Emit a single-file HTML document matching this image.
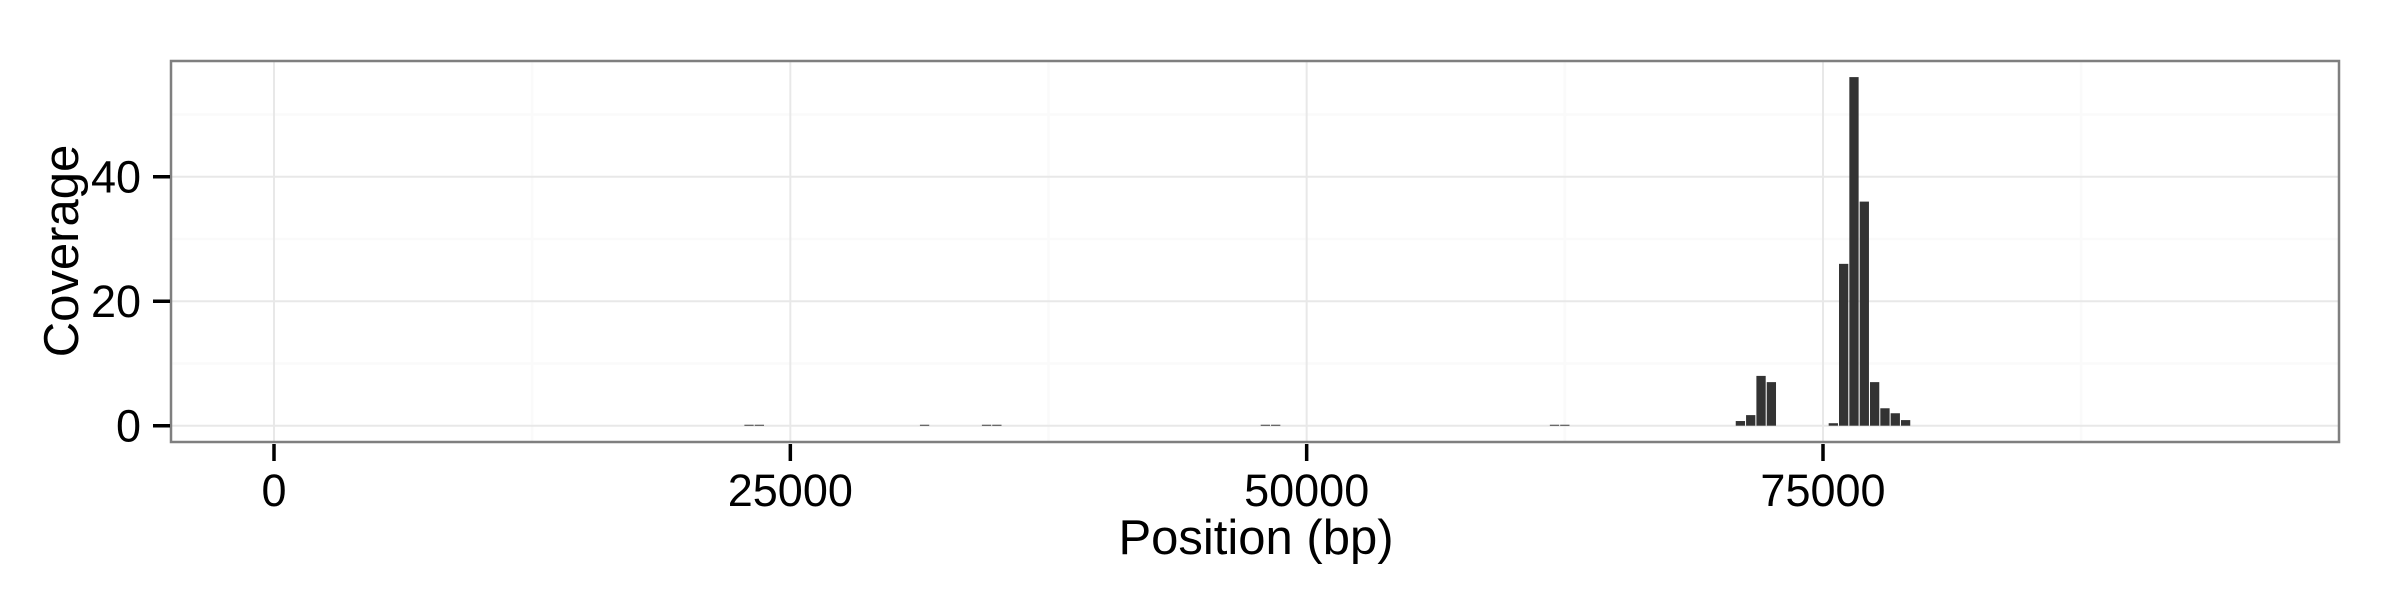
<!DOCTYPE html>
<html><head><meta charset="utf-8"><style>
html,body{margin:0;padding:0;background:#fff;}
svg{display:block;font-family:"Liberation Sans",Arial,sans-serif;}
</style></head><body>
<svg id="chart" width="2400" height="600" viewBox="0 0 2400 600" xmlns="http://www.w3.org/2000/svg">
<rect x="0" y="0" width="2400" height="600" fill="#fff"/>
<g id="grid"></g>
<g id="bars"></g>
<rect x="171" y="61" width="2168" height="381" fill="none" stroke="#7f7f7f" stroke-width="2.5"/>
<g id="axes"></g>
<text x="1256" y="554" font-size="49" text-anchor="middle" fill="#000">Position (bp)</text>
<text transform="translate(78,251) rotate(-90)" font-size="49" text-anchor="middle" fill="#000">Coverage</text>
</svg>
<script>
const binCenters = [23000,23500,31500,34500,35000,48000,48500,62000,62500,71000,71500,72000,72500,75500,76000,76500,77000,77500,78000,78500,79000];
const coverage   = [0.15,0.15,0.15,0.15,0.15,0.15,0.15,0.15,0.15,0.75,1.7,8,7,0.4,26,56,36,7,2.8,2,0.9];
const binWidth = 500;
const xTicks = [0,25000,50000,75000];
const xTickLabels = ["0","25000","50000","75000"];
const yTicks = [0,20,40];
const yTickLabels = ["0","20","40"];

const NS="http://www.w3.org/2000/svg";
const PL=171,PR=2339,PT=61,PB=442;
function xs(v){return 274+v*(1549/75000);}
function ys(v){return 425.7-v*(249/40);}
function mk(tag,attrs,parent){const e=document.createElementNS(NS,tag);for(const k in attrs)e.setAttribute(k,attrs[k]);parent.appendChild(e);return e;}
const grid=document.getElementById('grid'),bars=document.getElementById('bars'),axes=document.getElementById('axes');
for(let i=0;i<yTicks.length;i++){const m=yTicks[i]+10;const y=ys(m);if(y>PT){const l=mk('line',{x1:PL,x2:PR,y1:y,y2:y,stroke:'#fafafa','stroke-width':2.5},grid);

}}
for(let i=0;i<xTicks.length;i++){const x=xs(xTicks[i]+12500);if(x<PR){const l=mk('line',{x1:x,x2:x,y1:PT,y2:PB,stroke:'#fafafa','stroke-width':2.5},grid);

}}
for(let i=0;i<yTicks.length;i++){const y=ys(yTicks[i]);const l=mk('line',{x1:PL,x2:PR,y1:y,y2:y,stroke:'#e8e8e8','stroke-width':2},grid);


const t=mk('line',{x1:153,x2:170,y1:y,y2:y,stroke:'#000','stroke-width':3.5},axes);


const tx=mk('text',{x:141,y:y+16,'font-size':45,'text-anchor':'end',fill:'#000'},axes);tx.textContent=yTickLabels[i];

}
for(let i=0;i<xTicks.length;i++){const x=xs(xTicks[i]);const l=mk('line',{x1:x,x2:x,y1:PT,y2:PB,stroke:'#e8e8e8','stroke-width':2},grid);


const t=mk('line',{x1:x,x2:x,y1:444,y2:461,stroke:'#000','stroke-width':3.5},axes);


const tx=mk('text',{x:x,y:506,'font-size':45,'text-anchor':'middle',fill:'#000'},axes);tx.textContent=xTickLabels[i];

}
for(let i=0;i<binCenters.length;i++){const x0=xs(binCenters[i]-binWidth*0.45),x1=xs(binCenters[i]+binWidth*0.45);const y0=ys(coverage[i]),yb=ys(0);
const r=mk('rect',{x:x0,y:y0,width:x1-x0,height:Math.max(yb-y0,0.8),fill:'#333333'},bars);

}
</script>
</body></html>
